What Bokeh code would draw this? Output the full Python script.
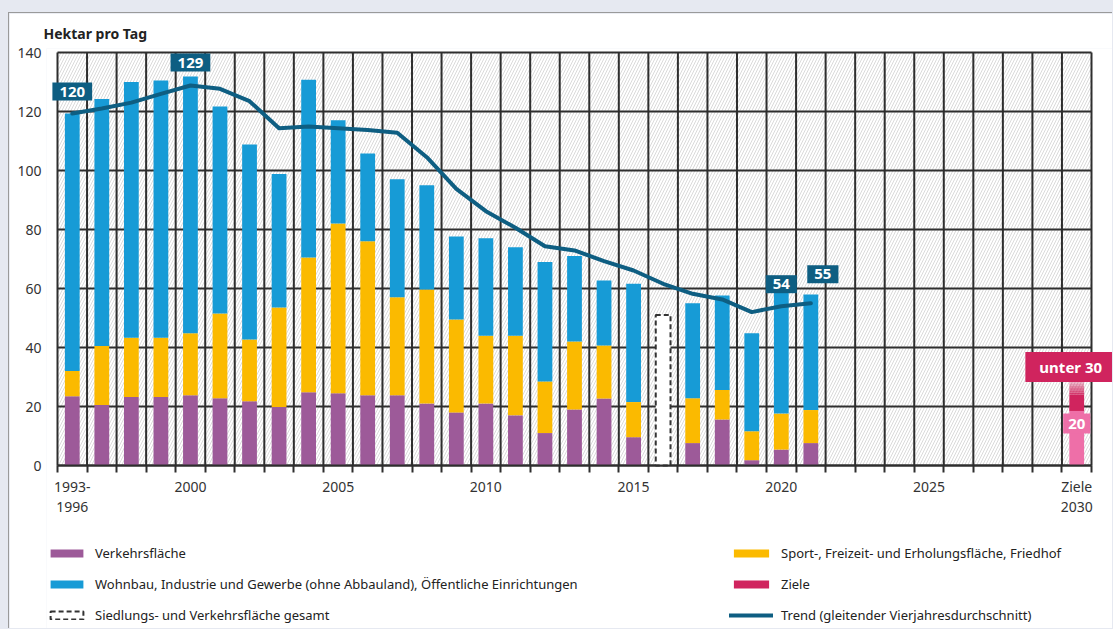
from bokeh.plotting import figure
from bokeh.models import (FixedTicker, Legend, LegendItem, Label, Range1d,
                          ColumnDataSource, GlobalInlineStyleSheet)
from bokeh.embed import file_html
from bokeh.resources import INLINE

NAN = float("nan")

# ---------------- data ----------------
categories = ["1993-1996", "1997", "1998", "1999", "2000", "2001", "2002", "2003",
              "2004", "2005", "2006", "2007", "2008", "2009", "2010", "2011",
              "2012", "2013", "2014", "2015", "2016", "2017", "2018", "2019",
              "2020", "2021", "2022", "2023", "2024", "2025", "2026", "2027",
              "2028", "2029", "2030"]
data_years = categories[:26]

verkehr = [23.5, 20.5, 23.2, 23.2, 23.8, 22.8, 21.8, 19.8, 24.8, 24.5, 23.8, 23.8, 21.0,
           18.0, 21.0, 17.0, 11.0, 19.0, 22.7, 9.6, NAN, 7.6, 15.6, 1.8, 5.4, 7.6]
sport = [8.5, 20.0, 20.1, 20.1, 21.0, 28.7, 20.9, 33.8, 45.7, 57.5, 52.2, 33.2, 38.7,
         31.5, 23.0, 27.0, 17.5, 23.0, 18.0, 11.9, NAN, 15.2, 10.0, 9.8, 12.2, 11.2]
wohnbau = [87.3, 83.7, 86.7, 87.2, 87.1, 70.2, 66.1, 45.2, 60.3, 35.0, 29.8, 40.0, 35.3,
           28.1, 33.0, 30.0, 40.5, 29.0, 22.0, 40.1, NAN, 32.2, 32.0, 33.2, 40.9, 39.2]
gesamt_year = ["2016"]
gesamt_value = [51.0]
trend = [119.3, 121.0, 123.0, 126.0, 128.8, 127.7, 123.5, 114.3, 114.9, 114.3, 113.7,
         112.8, 104.5, 93.8, 86.2, 80.6, 74.3, 72.9, 69.3, 66.1, 61.6, 58.2, 56.3,
         52.0, 54.0, 55.0]
trend_label_years = ["1993-1996", "2000", "2020", "2021"]
trend_label_text = ["120", "129", "54", "55"]
ziel_year = "2030"
ziel_lower = 20
ziel_upper = 30
y_ticks = [0, 20, 40, 60, 80, 100, 120, 140]
tick_years = ["1993-1996", "2000", "2005", "2010", "2015", "2020", "2025", "2030"]
tick_labels = ["1993-\n1996", "2000", "2005", "2010", "2015", "2020", "2025", "Ziele\n2030"]

C_VERKEHR = "#9d5a99"
C_SPORT = "#fbba00"
C_WOHN = "#179bd6"
C_TREND = "#0e5e82"
C_ZIEL_D = "#d0245e"
C_ZIEL_L = "#ee6fa8"
C_GRID = "#2e2e2e"
FONT = "Noto Sans"

pos = {c: i for i, c in enumerate(categories)}
x_lo = -0.5
x_hi = len(categories) - 0.5
y_top = y_ticks[-1]
boundaries = [i - 0.5 for i in range(len(categories) + 1)]

src = ColumnDataSource(dict(
    x=[pos[y] for y in data_years],
    verkehr=verkehr, sport=sport, wohnbau=wohnbau))

# frame covers plot + legend area; the x axis sits at y = 0 inside it
p = figure(width=1104, height=616,
           x_range=Range1d(x_lo - 0.3723, x_hi + 0.7445),
           y_range=Range1d(-55.593, y_top + 1.356),
           output_backend="svg", toolbar_location=None,
           min_border_left=37, min_border_right=0, min_border_top=35,
           min_border_bottom=0,
           styles={"margin-top": "12px", "margin-left": "8px",
                   "border-left": "1px solid #9a9a9a",
                   "border-top": "1px solid #9a9a9a"})
p.stylesheets = [GlobalInlineStyleSheet(
    css="html,body{background:#e6e9f1;overflow:hidden;margin:0;padding:0;}")]
p.outline_line_color = None
p.background_fill_color = "white"
p.border_fill_color = "white"
p.xgrid.visible = False
p.ygrid.visible = False

# hatched background
bg = p.quad(left=[x_lo], right=[x_hi], bottom=[0], top=[y_top],
            fill_color="white", line_color=None, hatch_pattern="/",
            hatch_color="#dadada", hatch_scale=6, hatch_weight=1)
bg.level = "image"

# grid lines (below bars)
hg = p.segment(x0=[x_lo] * len(y_ticks), x1=[x_hi] * len(y_ticks), y0=y_ticks, y1=y_ticks,
               line_color=C_GRID, line_width=2)
hg.level = "underlay"
vg = p.segment(x0=boundaries, x1=boundaries, y0=[0] * len(boundaries),
               y1=[y_top] * len(boundaries), line_color=C_GRID, line_width=2)
vg.level = "underlay"

# bars
rs = p.vbar_stack(["verkehr", "sport", "wohnbau"], x="x", width=0.5,
                  color=[C_VERKEHR, C_SPORT, C_WOHN], line_color=None, source=src)

r_ges = p.vbar(x=[pos[y] for y in gesamt_year], top=gesamt_value, bottom=0, width=0.5,
               fill_color="white", line_color="#333333", line_dash="5 3", line_width=2)

# Ziele
r_zl = p.vbar(x=[pos[ziel_year]], top=[ziel_lower], bottom=0, width=0.5,
              fill_color=C_ZIEL_L, line_color=None)
r_zd = p.vbar(x=[pos[ziel_year]], top=[ziel_lower + 0.4 * (ziel_upper - ziel_lower)],
              bottom=[ziel_lower - 1.5], width=0.5, fill_color=C_ZIEL_D, line_color=None)
steps = 8
for k in range(steps):
    b = ziel_lower + 0.4 * (ziel_upper - ziel_lower) + k * 0.6 * (ziel_upper - ziel_lower) / steps
    t = b + 0.6 * (ziel_upper - ziel_lower) / steps
    p.vbar(x=[pos[ziel_year]], top=[t], bottom=[b], width=0.5,
           fill_color=C_ZIEL_D, fill_alpha=1 - (k + 1) / (steps + 1), line_color=None)

# trend
r_tr = p.line([pos[y] for y in data_years], trend, line_width=4, color=C_TREND,
              line_cap="round", line_join="round")

# trend labels
offs = {"1993-1996": (0, 22), "2000": (0, 23), "2020": (0, 22), "2021": (12, 29)}
for y, t in zip(trend_label_years, trend_label_text):
    i = pos[y]
    dx, dy = offs[y]
    p.add_layout(Label(x=i, y=trend[data_years.index(y)], text=t, x_offset=dx, y_offset=dy,
                       text_align="center", text_baseline="middle",
                       text_color="white", text_font=FONT, text_font_style="bold",
                       text_font_size="15px", background_fill_color=C_TREND,
                       padding=dict(x=7, y=4)))

p.add_layout(Label(x=pos[ziel_year], y=ziel_upper, text="unter " + str(ziel_upper),
                   x_offset=-6, y_offset=10, text_align="center", text_baseline="middle",
                   text_color="white", text_font=FONT, text_font_style="bold",
                   text_font_size="15px", background_fill_color=C_ZIEL_D,
                   padding=dict(x=14, y=5)))
p.add_layout(Label(x=pos[ziel_year], y=ziel_lower, text=str(ziel_lower),
                   x_offset=0, y_offset=-17, text_align="center", text_baseline="middle",
                   text_color="white", text_font=FONT, text_font_style="bold",
                   text_font_size="15px", background_fill_color=C_ZIEL_L,
                   padding=dict(x=5, y=5)))

# axes
xa = p.xaxis[0]
xa.fixed_location = 0
xa.bounds = (x_lo, x_hi)
xa.ticker = FixedTicker(ticks=[pos[y] for y in tick_years], minor_ticks=boundaries)
xa.major_label_overrides = {pos[y]: l for y, l in zip(tick_years, tick_labels)}
xa.axis_line_color = C_GRID
xa.axis_line_width = 2
xa.major_tick_line_color = None
xa.major_tick_out = 7
xa.major_tick_in = 0
xa.minor_tick_line_color = C_GRID
xa.minor_tick_line_width = 2
xa.minor_tick_out = 7
xa.minor_tick_in = 0
xa.major_label_standoff = 4
xa.major_label_text_font = FONT
xa.major_label_text_font_size = "14px"
xa.major_label_text_line_height = 1.1
xa.major_label_text_color = "#333333"

ya = p.yaxis[0]
ya.ticker = FixedTicker(ticks=y_ticks)
ya.axis_line_color = None
ya.major_tick_line_color = None
ya.minor_tick_line_color = None
ya.major_tick_out = 0
ya.major_tick_in = 0
ya.major_label_standoff = 5
ya.major_label_text_font = FONT
ya.major_label_text_font_size = "14px"
ya.major_label_text_color = "#333333"

# title
p.title.text = "Hektar pro Tag"
p.title.text_font = FONT
p.title.text_font_size = "14px"
p.title.text_font_style = "bold"
p.title.text_color = "#222222"
p.title.offset = -3
p.title.standoff = 11

# legends
def make_legend(items, x, gw):
    return Legend(items=items, location=(x, 4), orientation="vertical",
                  background_fill_alpha=0, border_line_color=None,
                  padding=0, margin=0, spacing=10, label_height=21,
                  glyph_height=10, glyph_width=gw, label_standoff=8,
                  label_text_font=FONT, label_text_font_size="13px",
                  label_text_color="#222222")

left_items = [
    LegendItem(label="Verkehrsfläche", renderers=[rs[0]]),
    LegendItem(label="Wohnbau, Industrie und Gewerbe (ohne Abbauland), Öffentliche Einrichtungen",
               renderers=[rs[2]]),
    LegendItem(label="Siedlungs- und Verkehrsfläche gesamt", renderers=[r_ges]),
]
right_items = [
    LegendItem(label="Sport-, Freizeit- und Erholungsfläche, Friedhof", renderers=[rs[1]]),
    LegendItem(label="Ziele", renderers=[r_zd]),
    LegendItem(label="Trend (gleitender Vierjahresdurchschnitt)", renderers=[r_tr]),
]
p.add_layout(make_legend(left_items, 0, 41), "center")
p.add_layout(make_legend(right_items, 683, 44), "center")

open("out.html", "w").write(file_html(p, INLINE))
